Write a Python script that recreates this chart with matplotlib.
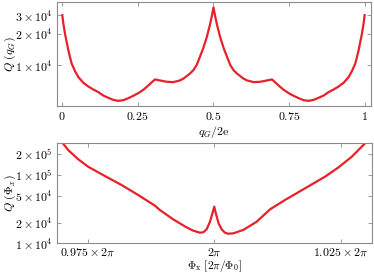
import numpy as np
import matplotlib
matplotlib.use('Agg')
import matplotlib.pyplot as plt
from matplotlib.ticker import FixedLocator, NullLocator

plt.rcParams['mathtext.fontset'] = 'cm'
plt.rcParams['font.family'] = 'serif'
plt.rcParams['font.serif'] = ['DejaVu Serif']

# top panel: Q vs gate charge
qg = [0.001, 0.0044, 0.0099, 0.0154, 0.0209, 0.0264, 0.0319, 0.0429, 0.0539, 0.0704,
      0.0869, 0.1034, 0.1199, 0.1364, 0.1529, 0.1694, 0.1859, 0.2024, 0.2189, 0.2354,
      0.2519, 0.2684, 0.2849, 0.2959, 0.3069, 0.323, 0.345, 0.367, 0.389, 0.40,
      0.422, 0.433, 0.444, 0.455, 0.466, 0.478, 0.488, 0.494, 0.5,
      0.506, 0.512, 0.522, 0.534, 0.545, 0.556, 0.567, 0.578, 0.60, 0.611,
      0.633, 0.655, 0.677, 0.6931, 0.7041, 0.7151, 0.7316, 0.7481, 0.7646, 0.7811,
      0.7976, 0.8141, 0.8306, 0.8471, 0.8636, 0.8801, 0.8966, 0.9131, 0.9296, 0.9461,
      0.9571, 0.9681, 0.9736, 0.9791, 0.9846, 0.9901, 0.9956, 0.999]
Q_qg = [3.0e4, 2.5e4, 2.0e4, 1.67e4, 1.39e4, 1.2e4, 1.04e4, 8.83e3, 7.74e3, 6.84e3,
        6.3e3, 5.9e3, 5.57e3, 5.17e3, 4.92e3, 4.7e3, 4.6e3, 4.67e3, 4.88e3, 5.14e3,
        5.45e3, 5.86e3, 6.44e3, 6.89e3, 7.35e3, 7.19e3, 6.99e3, 6.93e3, 7.19e3, 7.46e3,
        8.34e3, 8.96e3, 1.0e4, 1.2e4, 1.45e4, 1.86e4, 2.41e4, 2.89e4, 3.55e4,
        2.89e4, 2.41e4, 1.86e4, 1.45e4, 1.2e4, 1.0e4, 8.96e3, 8.34e3, 7.46e3, 7.19e3,
        6.93e3, 6.99e3, 7.19e3, 7.35e3, 6.89e3, 6.44e3, 5.86e3, 5.45e3, 5.14e3, 4.88e3,
        4.67e3, 4.6e3, 4.7e3, 4.92e3, 5.17e3, 5.57e3, 5.9e3, 6.3e3, 6.84e3, 7.74e3,
        8.83e3, 1.04e4, 1.2e4, 1.39e4, 1.67e4, 2.0e4, 2.5e4, 3.0e4]

# bottom panel: Q vs flux (in units of 2pi)
phi = [0.96979, 0.97111, 0.97309, 0.97507, 0.97836, 0.98166, 0.98496, 0.98826, 0.98925,
       0.99189, 0.99453, 0.99585, 0.99717, 0.99783, 0.99849, 0.99915, 0.99968, 1.0,
       1.00034, 1.00086, 1.00146, 1.00212, 1.00278, 1.00377, 1.00575, 1.00839, 1.01103,
       1.0140, 1.01795, 1.02191, 1.02455, 1.02719, 1.02983, 1.03115]
Q_phi = [3.08e5, 2.32e5, 1.70e5, 1.32e5, 9.67e4, 7.14e4, 5.09e4, 3.56e4, 3.07e4,
         2.24e4, 1.71e4, 1.53e4, 1.43e4, 1.45e4, 1.60e4, 2.07e4, 2.81e4, 3.44e4,
         2.69e4, 1.96e4, 1.60e4, 1.43e4, 1.38e4, 1.40e4, 1.57e4, 2.07e4, 3.14e4,
         4.31e4, 6.38e4, 9.45e4, 1.29e5, 1.85e5, 2.91e5, 3.64e5]

top_yticks = [1e4, 2e4, 3e4]
top_ylabels = [r'$1\times10^4$', r'$2\times10^4$', r'$3\times10^4$']
top_xticks = [0, 0.25, 0.5, 0.75, 1]
top_xlabels = ['$0$', '$0.25$', '$0.5$', '$0.75$', '$1$']
bot_yticks = [1e4, 2e4, 5e4, 1e5, 2e5]
bot_ylabels = [r'$1\times10^4$', r'$2\times10^4$', r'$5\times10^4$',
               r'$1\times10^5$', r'$2\times10^5$']
bot_xticks = [0.975, 1.0, 1.025]
bot_xlabels = [r'$0.975\times2\pi$', r'$2\pi$', r'$1.025\times2\pi$']

red = '#e8202a'
grey = '#8a8a8a'
fs = 8.6

fig = plt.figure(figsize=(3.74, 2.73), dpi=100)
ax1 = fig.add_axes([0.1524, 0.61, 0.8396, 0.3827])
ax2 = fig.add_axes([0.1524, 0.1088, 0.8423, 0.3659])

ax1.plot(qg, Q_qg, color=red, lw=1.6, solid_joinstyle='round')
ax1.set_yscale('log')
ax1.set_xlim(-0.0165, 1.02)
ax1.set_ylim(4.07e3, 4.0e4)

ax2.plot(phi, Q_phi, color=red, lw=1.6, solid_joinstyle='round')
ax2.set_yscale('log')
ax2.set_xlim(0.9689, 1.0312)
ax2.set_ylim(1e4, 2.9e5)

for ax, xt, xl, yt, yl in [(ax1, top_xticks, top_xlabels, top_yticks, top_ylabels),
                           (ax2, bot_xticks, bot_xlabels, bot_yticks, bot_ylabels)]:
    ax.xaxis.set_major_locator(FixedLocator(xt))
    ax.set_xticklabels(xl)
    ax.yaxis.set_major_locator(FixedLocator(yt))
    ax.yaxis.set_minor_locator(NullLocator())
    ax.set_yticklabels(yl)
    ax.tick_params(which='both', direction='in', top=True, right=True,
                   length=3, width=0.6, color=grey, labelsize=fs)
    ax.tick_params(axis='x', pad=2.5)
    ax.tick_params(axis='y', pad=3)
    for s in ax.spines.values():
        s.set_color(grey)
        s.set_linewidth(0.8)

ax1.set_xlabel(r'$q_G/2\mathrm{e}$', fontsize=fs, labelpad=1)
ax1.set_ylabel(r'$Q\ (q_G)$', fontsize=fs)
ax1.yaxis.set_label_coords(-0.124, 0.5)
ax2.tick_params(axis='x', pad=1.5)
ax2.set_xlabel(r'$\Phi_{\rm x}\ [2\pi/\Phi_0]$', fontsize=8.2, labelpad=0)
ax2.set_ylabel(r'$Q\ (\Phi_x)$', fontsize=fs)
ax2.yaxis.set_label_coords(-0.124, 0.5)

fig.savefig('out.png', dpi=100)
